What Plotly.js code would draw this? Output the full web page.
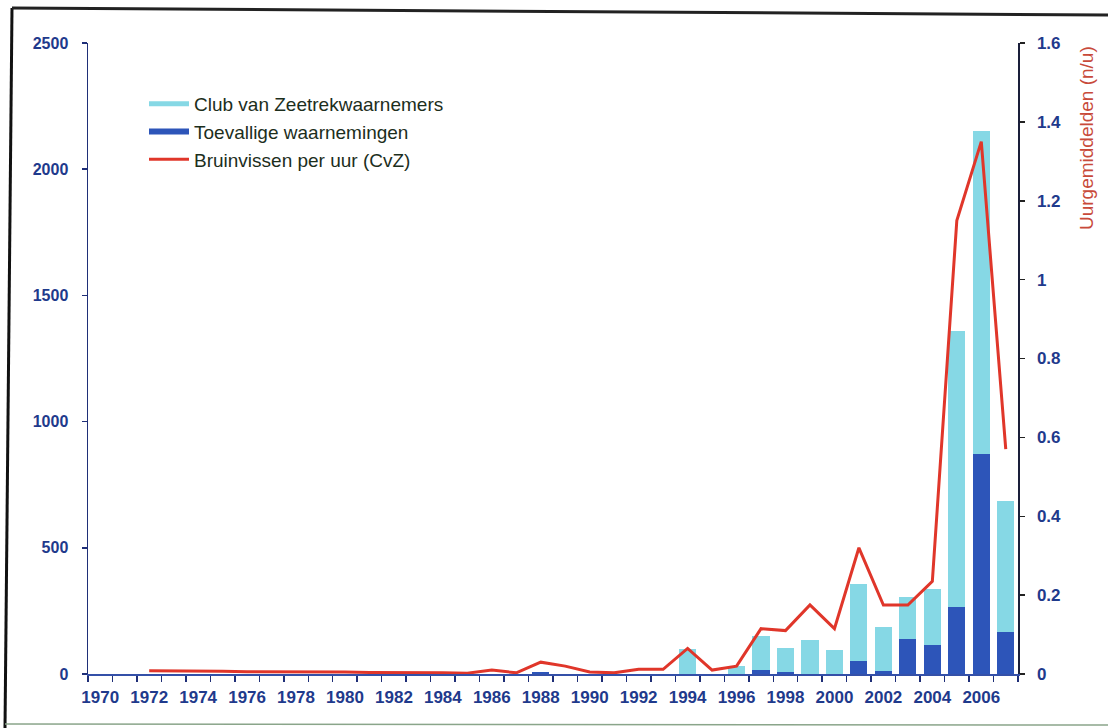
<!DOCTYPE html>
<html>
<head>
<meta charset="utf-8">
<script src="https://cdn.plot.ly/plotly-3.0.1.min.js"></script>
<style>
  html, body { margin: 0; padding: 0; background: #fff; }
  #chart { width: 1108px; height: 728px; }
</style>
</head>
<body>
<div id="chart"></div>
<script>
// ---- data ----
const years = [1970,1971,1972,1973,1974,1975,1976,1977,1978,1979,
               1980,1981,1982,1983,1984,1985,1986,1987,1988,1989,
               1990,1991,1992,1993,1994,1995,1996,1997,1998,1999,
               2000,2001,2002,2003,2004,2005,2006,2007];

// Toevallige waarnemingen (dark blue, bottom of stack)
const toevallig = [0,0,0,0,0,0,0,0,0,0,
                   0,0,0,0,0,0,0,0,8,0,
                   0,0,0,0,0,0,0,15,6,0,
                   0,50,12,140,115,265,870,165];

// Club van Zeetrekwaarnemers (light cyan, stacked on top)
const club = [0,0,0,0,0,0,0,0,0,0,
              0,0,0,0,0,0,0,0,0,0,
              0,0,0,0,100,0,30,135,99,135,
              95,305,173,165,220,1095,1280,520];

// Bruinvissen per uur (CvZ), right axis
const perUur = [null,null,0.008,0.008,0.007,0.007,0.006,0.006,0.005,0.005,
                0.005,0.004,0.004,0.003,0.003,0.002,0.01,0.003,0.03,0.02,
                0.005,0.003,0.012,0.012,0.065,0.01,0.02,0.115,0.11,0.175,
                0.115,0.32,0.175,0.175,0.235,1.15,1.35,0.57];

const tickYears = [1970,1972,1974,1976,1978,1980,1982,1984,1986,1988,
                   1990,1992,1994,1996,1998,2000,2002,2004,2006];

const names = ["Club van Zeetrekwaarnemers", "Toevallige waarnemingen", "Bruinvissen per uur (CvZ)"];
const rightTitle = "Uurgemiddelden (n/u)";

// ---- styling ----
const cLight = "#86d8e5";
const cDark = "#2d55b9";
const cRed = "#e0362a";
const cAxis = "#1f2f78";
const cTick = "#1f3a8c";

// plot area in px (for converting decorative positions)
const L = 88, R = 1018, T = 43, B = 674;
const px = x => (x - L) / (R - L);
const py = y => (B - y) / (B - T);

const traces = [
  {type: "scatter", mode: "lines", x: [null], y: [null], name: names[0],
   line: {color: cLight, width: 5}, legendgroup: "a", hoverinfo: "skip"},
  {type: "scatter", mode: "lines", x: [null], y: [null], name: names[1],
   line: {color: cDark, width: 6}, legendgroup: "b", hoverinfo: "skip"},
  {type: "bar", x: years, y: toevallig, name: names[1], showlegend: false,
   marker: {color: cDark, line: {width: 0}}},
  {type: "bar", x: years, y: club, name: names[0], showlegend: false,
   marker: {color: cLight, line: {width: 0}}},
  {type: "scatter", mode: "lines", x: years, y: perUur, name: names[2], yaxis: "y2",
   line: {color: cRed, width: 3}, legendgroup: "c", connectgaps: false}
];

const layout = {
  width: 1108, height: 728,
  margin: {l: L, r: 1108 - R, t: T, b: 728 - B},
  paper_bgcolor: "#fff", plot_bgcolor: "#fff",
  barmode: "stack", bargap: 0.3,
  font: {family: "Liberation Sans, Arial, sans-serif"},
  showlegend: true,
  legend: {
    x: px(144), y: py(85), xanchor: "left", yanchor: "top",
    bgcolor: "rgba(0,0,0,0)", itemwidth: 40, tracegroupgap: 0,
    font: {size: 19, color: "#1c2e1c"}
  },
  xaxis: {
    type: "linear", range: [1969.5, 2007.5],
    tickvals: tickYears, ticktext: tickYears.map(String),
    ticks: "", showgrid: false, zeroline: false,
    showline: true, linecolor: "#3450a8", linewidth: 1.5,
    tickfont: {size: 17, color: cTick, weight: "bold"},
    ticklabelstandoff: 7,
    minor: {ticks: "outside", tick0: 1969.5, dtick: 1, ticklen: 6, tickcolor: cAxis, tickwidth: 1.5, showgrid: false}
  },
  yaxis: {
    range: [0, 2500], tickvals: [0,500,1000,1500,2000,2500],
    ticks: "outside", ticklen: 5, tickcolor: cAxis, tickwidth: 1.5,
    showgrid: false, zeroline: false,
    showline: true, linecolor: cAxis, linewidth: 1.5,
    tickfont: {size: 16, color: cTick, weight: "bold"},
    ticklabelstandoff: 10
  },
  yaxis2: {
    overlaying: "y", side: "right",
    range: [0, 1.6], tickvals: [0,0.2,0.4,0.6,0.8,1,1.2,1.4,1.6],
    ticktext: ["0","0.2","0.4","0.6","0.8","1","1.2","1.4","1.6"],
    ticks: "outside", ticklen: 5, tickcolor: "#222", tickwidth: 1.5,
    showgrid: false, zeroline: false,
    showline: true, linecolor: "#1a1f3a", linewidth: 1.5,
    tickfont: {size: 17, color: cTick, weight: "bold"},
    ticklabelstandoff: 9
  },
  annotations: [{
    xref: "paper", yref: "paper", x: px(1087), y: py(44),
    xanchor: "center", yanchor: "top", textangle: -90, showarrow: false,
    text: rightTitle, font: {size: 19, color: "#c84a3a"}
  }],
  shapes: [
    {type: "line", xref: "paper", yref: "paper", x0: px(12), y0: py(8), x1: px(5), y1: py(728),
     line: {color: "#111", width: 3}, layer: "above"},
    {type: "line", xref: "paper", yref: "paper", x0: px(12), y0: py(8), x1: px(1108), y1: py(15),
     line: {color: "#222", width: 3}, layer: "above"},
    {type: "line", xref: "paper", yref: "paper", x0: px(5), y0: py(724), x1: px(1108), y1: py(725),
     line: {color: "#8aa58a", width: 1.5}, layer: "above"}
  ]
};

Plotly.newPlot("chart", traces, layout, {displayModeBar: false, staticPlot: true});
</script>
</body>
</html>
